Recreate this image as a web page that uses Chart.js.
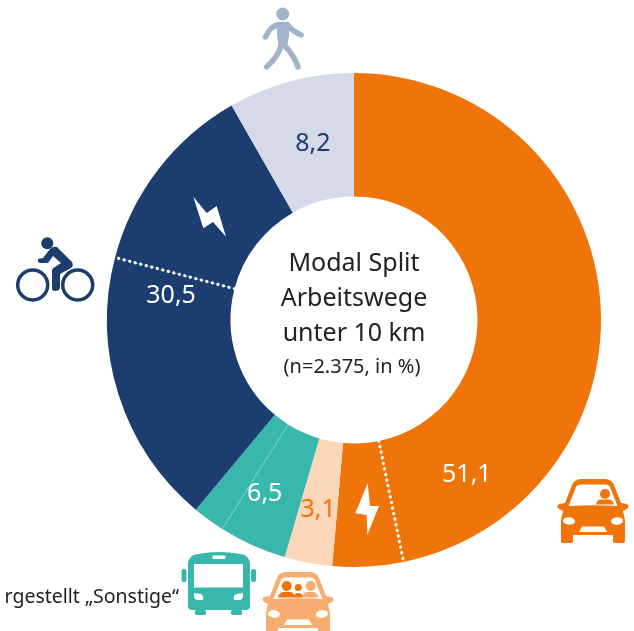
<!DOCTYPE html>
<html lang="de"><head><meta charset="utf-8">
<script src="https://cdn.jsdelivr.net/npm/chart.js@4"></script>
<style>html,body{margin:0;padding:0;background:#fff;overflow:hidden}#w{position:relative;width:634px;height:631px}canvas{position:absolute;left:0;top:0}svg{position:absolute;left:0;top:0;pointer-events:none}</style>
</head><body><div id="w"><canvas id="c" width="634" height="631"></canvas>
<svg width="634" height="631" viewBox="0 0 634 631">
<defs><g id="car">
<path d="M572,485Q574,479.500 581,479L605,479Q612,479.500 614,485L621,503L627,504Q630,506.500 627,509L623,511L625,520L625,541Q625,543 622,543L615,543Q613,543 613,541L613,535L573,535L573,541Q573,543 571,543L564,543Q561,543 561,541L561,520L563,511L559,509Q556,506.500 559,504L565,503Z"/>
<path d="M576,487Q577,484.500 581,484.500L605,484.500Q609,484.500 610,487L617.500,506Q593,504.500 568.500,506Z" fill="#fff"/>
<ellipse cx="569" cy="521" rx="6" ry="3.800" fill="#fff" transform="rotate(5 569 521)"/>
<ellipse cx="617" cy="521" rx="6" ry="3.800" fill="#fff" transform="rotate(-5 617 521)"/>
<path d="M582,526.500L604,526.500L607,532L579,532Z" fill="#fff"/>
</g></defs>
<g fill="#A3B3C8" stroke="none"><circle cx="282.700" cy="14" r="6.500"/>
<path d="M277,22L289,22L289,36L287,47L279,47L277,36Z"/>
<g fill="none" stroke="#A3B3C8" stroke-width="5.500" stroke-linecap="round" stroke-linejoin="round">
<path d="M279,24.500Q270,26 265.500,37"/><path d="M287,24.500Q292,31 301,35"/>
<path d="M281,45Q279,56 266.500,67"/><path d="M284,45Q294,55 298,67"/></g></g>
<g fill="#1B3D6F"><circle cx="47.300" cy="243.300" r="6"/>
<circle cx="32.700" cy="285" r="15" fill="none" stroke="#1B3D6F" stroke-width="3.500"/>
<circle cx="77.700" cy="285" r="15" fill="none" stroke="#1B3D6F" stroke-width="3.500"/>
<path d="M57,247L72,262Q74,266 71,268L60,274L60,288Q59,291 55,291Q52,291 52,288L52,271Q52,268 55,267L61,263L53,256L48,263L40,263Q37,262 38,259L43,258L50,249Q53,246 57,247Z"/></g>
<path fill="#fff" d="M193.300,196.700L206.700,213L216.700,206L226,236.700L213,222L203.300,228.300Z"/>
<path fill="#fff" d="M367.700,483.300L370,506L379,506L367.300,535L366.700,515L355.300,513.300Z"/>
<use href="#car" fill="#EF750B"/>
<g fill="#EF750B"><circle cx="605" cy="494" r="5"/><path d="M596,504.500Q597,499.500 601,499.500L609,499.500Q613,500 614,504.500Z"/></g>
<g transform="translate(-295,93)" fill="#F6AD6F"><use href="#car"/>
<g fill="#EF750B"><circle cx="581.700" cy="493" r="5"/><path d="M573,504.500Q574,499 579,499L585,499Q589,499 590,504.500Z"/><circle cx="593.300" cy="494.500" r="3.500"/><path d="M588.500,504.500Q589,500 593.300,500Q597.500,500 598,504.500Z"/></g>
<g fill="#F6AD6F"><circle cx="605.700" cy="493" r="5"/><path d="M597,504.500Q598,499 602,499L608,499Q612,499 613,504.500Z"/></g></g>
<g fill="#38B7AC"><rect x="181.500" y="569" width="5" height="13" rx="2"/><rect x="251" y="569" width="5" height="13" rx="2"/>
<path d="M188,565Q188,555 198,554Q219,550 240,554Q250,555 250,565L250,606Q250,610 246,610L192,610Q188,610 188,606Z"/>
<rect x="195" y="610" width="11" height="5" rx="1.500"/><rect x="231" y="610" width="11" height="5" rx="1.500"/>
<rect x="194" y="564" width="49" height="23.500" fill="#fff"/><rect x="212.500" y="555.500" width="13" height="3.500" rx="1" fill="#fff"/>
<path d="M194,593L201,594Q204,596 203,600L197,600Q194,599 194,596Z" fill="#fff"/>
<path d="M243,593L236,594Q233,596 234,600L240,600Q243,599 243,596Z" fill="#fff"/></g>
</svg></div>
<script>
const categories = ["Auto", "Auto elektrisch", "Mitfahrer", "ÖV Bus", "ÖV Bahn", "Fahrrad", "E-Bike", "Zu Fuß"];
const shares = [46.5, 4.6, 3.1, 4.4, 2.1, 17.9, 12.6, 8.2];
const sliceColours = ["#EF750B", "#EF750B", "#FCD6B8", "#38B7AC", "#38B7AC", "#1B3D6F", "#1B3D6F", "#D5D9E8"];
const valueLabels = ["51,1", "8,2", "6,5", "3,1", "30,5"];
const centreLines = ["Modal Split", "Arbeitswege", "unter 10 km"];
const centreNote = "(n=2.375, in %)";
const sideNote = "rgestellt „Sonstige“";

const FONT = '"Noto Sans", sans-serif';
// label placement: [angle in degrees clockwise from 12 o'clock, distance as fraction of outer radius, colour]
const labelPlaces = [[143.6, .77, "#fff"], [347, .74, "#1B3D6F"], [207.4, .785, "#fff"], [190.8, .775, "#EF750B"], [278.1, .748, "#fff"]];
// dividers inside a group: [index of slice whose end it marks, style]
const dividers = [[0, "dot"], [3, "thin"], [5, "dot"]];

const overlay = {
  id: "overlay",
  afterDatasetsDraw(chart) {
    const c = chart.ctx, arcs = chart.getDatasetMeta(0).data, a0 = arcs[0];
    const cx = a0.x, cy = a0.y, R = a0.outerRadius, r = a0.innerRadius;
    c.save();
    dividers.forEach(([i, kind]) => {
      const ang = arcs[i].endAngle, ca = Math.cos(ang), sa = Math.sin(ang);
      c.beginPath();
      c.moveTo(cx + r * ca, cy + r * sa); c.lineTo(cx + R * ca, cy + R * sa);
      if (kind === "dot") { c.strokeStyle = "#fff"; c.lineWidth = 3.2; c.lineCap = "round"; c.setLineDash([0.1, 5.6]); }
      else { c.strokeStyle = "rgba(255,255,255,.3)"; c.lineWidth = 0.8; c.setLineDash([]); }
      c.stroke();
    });
    c.setLineDash([]);
    c.textAlign = "center"; c.textBaseline = "alphabetic";
    c.font = "25px " + FONT;
    valueLabels.forEach((t, i) => {
      const [deg, f, col] = labelPlaces[i], th = (deg - 90) * Math.PI / 180;
      c.fillStyle = col;
      c.fillText(t, cx + R * f * Math.cos(th), cy + R * f * Math.sin(th) + 9);
    });
    c.fillStyle = "#222";
    c.font = "25px " + FONT;
    centreLines.forEach((t, i) => c.fillText(t, cx, cy - 49 + 35 * i));
    c.font = "20px " + FONT;
    c.fillText(centreNote, cx - 2, cy + 53);
    c.font = "19.500px " + FONT;
    c.textAlign = "right";
    c.fillText(sideNote, 179, 603);
    c.restore();
  }
};

new Chart(document.getElementById("c"), {
  type: "doughnut",
  data: { labels: categories, datasets: [{ data: shares, backgroundColor: sliceColours, borderWidth: 0, borderColor: sliceColours, hoverOffset: 0 }] },
  options: {
    responsive: false, animation: false, cutout: "50%",
    layout: { padding: { left: 107, right: 33, top: 73, bottom: 64 } },
    plugins: { legend: { display: false }, tooltip: { enabled: false } }
  },
  plugins: [overlay]
});
</script></body></html>
